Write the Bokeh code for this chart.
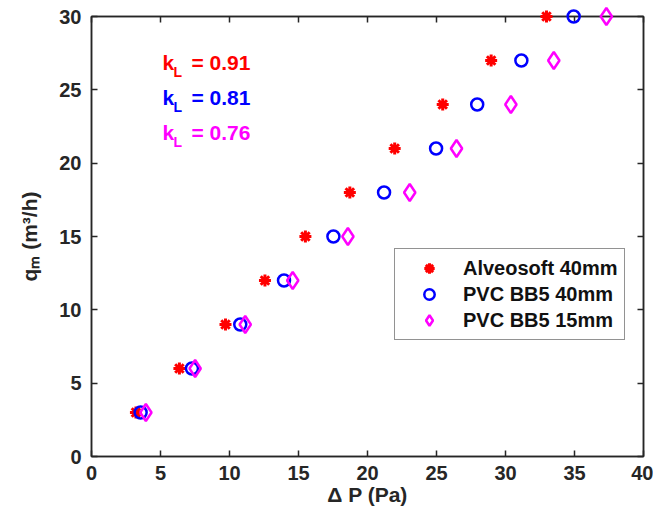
from bokeh.plotting import figure
from bokeh.models import (LinearAxis, FixedTicker, CustomJSTickFormatter, Label,
                          Legend, LegendItem, Range1d, ColumnDataSource)
from bokeh.embed import file_html
from bokeh.resources import INLINE

# ---- data ----
flow = [3, 6, 9, 12, 15, 18, 21, 24, 27, 30]
dp_alveosoft = [3.22, 6.37, 9.71, 12.57, 15.5, 18.72, 21.97, 25.45, 28.96, 32.97]
dp_pvc40 = [3.56, 7.28, 10.78, 13.95, 17.53, 21.2, 24.97, 27.95, 31.15, 34.94]
dp_pvc15 = [3.94, 7.51, 11.14, 14.58, 18.58, 23.06, 26.45, 30.39, 33.5, 37.31]
series_names = ["Alveosoft 40mm", "PVC BB5 40mm", "PVC BB5 15mm"]
kl_values = ["0.91", "0.81", "0.76"]
x_ticks = [0, 5, 10, 15, 20, 25, 30, 35, 40]
y_ticks = [0, 5, 10, 15, 20, 25, 30]

RED, BLUE, MAG = "#ff0000", "#0000ff", "#ff00ff"
AX = "#262626"
FONT = "Liberation Sans"

p = figure(width=653, height=511, x_range=Range1d(0, 40), y_range=Range1d(0, 30),
           output_backend="svg", toolbar_location=None,
           min_border_left=91, min_border_right=10, min_border_top=16, min_border_bottom=55)
p.grid.visible = False
p.outline_line_color = AX
p.outline_line_width = 1.5

bottom = p.below[0]
left = p.left[0]
top = LinearAxis()
right = LinearAxis()
p.add_layout(top, "above")
p.add_layout(right, "right")

for ax, ticks in [(bottom, x_ticks), (top, x_ticks), (left, y_ticks), (right, y_ticks)]:
    ax.ticker = FixedTicker(ticks=ticks)
    ax.axis_line_color = AX
    ax.axis_line_width = 1.5
    ax.major_tick_line_color = AX
    ax.major_tick_line_width = 1.5
    ax.major_tick_in = 6
    ax.major_tick_out = 0
    ax.minor_tick_line_color = None
    ax.major_label_text_font = FONT
    ax.major_label_text_font_style = "bold"
    ax.major_label_text_font_size = "20px"
    ax.major_label_text_color = AX
for ax in (top, right):
    ax.formatter = CustomJSTickFormatter(code="return ''")
    ax.major_label_standoff = 0

left.major_label_standoff = 10
left.axis_label = "qₘ (m³/h)"
left.axis_label_standoff = 15
bottom.major_label_standoff = 9
bottom.axis_label = "Δ P (Pa)"
bottom.axis_label_standoff = 0
for ax in (left, bottom):
    ax.axis_label_text_font = FONT
    ax.axis_label_text_font_style = "bold"
    ax.axis_label_text_font_size = "21px"
    ax.axis_label_text_color = AX

src = ColumnDataSource(dict(q=flow, a=dp_alveosoft, b=dp_pvc40, c=dp_pvc15))
r1 = p.scatter("a", "q", source=src, marker="asterisk", size=12, line_color=RED, line_width=3, level="overlay")
r2 = p.scatter("b", "q", source=src, marker="circle", size=12, fill_color=None, line_color=BLUE,
               line_width=2.5, level="overlay")
r3 = p.scatter("c", "q", source=src, marker="diamond", size=17, fill_color=None, line_color=MAG,
               line_width=2.5, level="overlay")

legend = Legend(items=[LegendItem(label=n, renderers=[r]) for n, r in zip(series_names, [r1, r2, r3])],
                location=(303, 116), margin=0, padding=6, spacing=0,
                glyph_width=56, glyph_height=26, label_height=26, label_standoff=6,
                border_line_color=AX, border_line_width=1.5,
                background_fill_color="white", background_fill_alpha=1.0,
                label_text_font=FONT, label_text_font_style="bold",
                label_text_font_size="20px", label_text_color="#111111")
p.add_layout(legend)

# k_L annotations, anchored in data space, pieces offset in pixels
for i, (val, col) in enumerate(zip(kl_values, [RED, BLUE, MAG])):
    yb = 26.86 - 2.39 * i
    for txt, dx, dy, fs in [("k", 0, 0, "21px"), ("L", 11, -9, "14px"), ("= " + val, 29, 0, "21px")]:
        p.add_layout(Label(x=5.14, y=yb, x_offset=dx, y_offset=dy, text=txt,
                           text_font=FONT, text_font_style="bold", text_font_size=fs,
                           text_color=col, text_baseline="alphabetic", text_align="left"))

open("out.html", "w").write(file_html(p, INLINE))
